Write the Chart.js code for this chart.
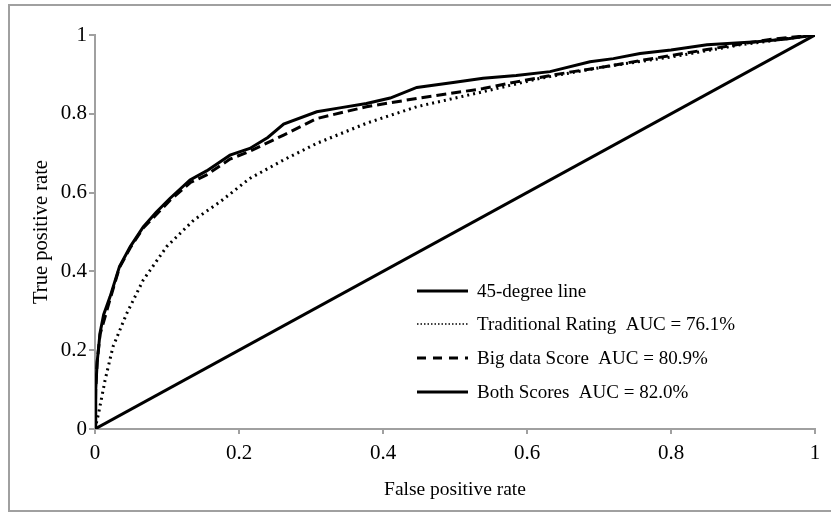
<!DOCTYPE html>
<html>
<head>
<meta charset="utf-8">
<script src="https://cdn.jsdelivr.net/npm/chart.js@4/dist/chart.umd.min.js"></script>
<style>
  html, body { margin: 0; padding: 0; background: #fff; }
  #wrap { width: 831px; height: 514px; }
</style>
</head>
<body>
<div id="wrap"><canvas id="roc" width="831" height="514"></canvas></div>
<script>
// ROC curves
const diagX = [0, 1];
const diagY = [0, 1];

const tradX = [0, 0.005, 0.014, 0.025, 0.044, 0.067, 0.0996, 0.137, 0.174, 0.215, 0.262, 0.308, 0.377, 0.447, 0.539, 0.618, 0.71, 0.803, 0.896, 1];
const tradY = [0, 0.04, 0.124, 0.209, 0.293, 0.378, 0.463, 0.53, 0.577, 0.636, 0.683, 0.725, 0.776, 0.818, 0.856, 0.89, 0.92, 0.945, 0.975, 1];

const bigX = [0, 0.001, 0.003, 0.007, 0.021, 0.034, 0.049, 0.067, 0.104, 0.132, 0.155, 0.1875, 0.215, 0.262, 0.308, 0.377, 0.447, 0.539, 0.585, 0.632, 0.664, 0.71, 0.757, 0.8, 0.85, 0.9, 0.942, 1];
const bigY = [0, 0.1, 0.17, 0.24, 0.33, 0.41, 0.46, 0.51, 0.58, 0.625, 0.645, 0.685, 0.705, 0.746, 0.788, 0.818, 0.839, 0.864, 0.881, 0.897, 0.907, 0.92, 0.935, 0.948, 0.963, 0.978, 0.99, 1];

const bothX = [0, 0.001, 0.003, 0.007, 0.012, 0.021, 0.034, 0.049, 0.067, 0.085, 0.104, 0.132, 0.155, 0.1875, 0.215, 0.24, 0.262, 0.308, 0.34, 0.377, 0.41, 0.447, 0.5, 0.539, 0.585, 0.632, 0.6875, 0.72, 0.757, 0.8, 0.85, 0.919, 0.96, 1];
const bothY = [0, 0.1, 0.17, 0.244, 0.29, 0.336, 0.412, 0.463, 0.513, 0.55, 0.585, 0.632, 0.655, 0.695, 0.712, 0.74, 0.774, 0.805, 0.815, 0.826, 0.84, 0.867, 0.88, 0.89, 0.897, 0.907, 0.932, 0.94, 0.953, 0.962, 0.975, 0.983, 0.99, 1];

const seriesLabels = ['45-degree line', 'Traditional Rating  AUC = 76.1%', 'Big data Score  AUC = 80.9%', 'Both Scores  AUC = 82.0%'];
const tickValues = [0, 0.2, 0.4, 0.6, 0.8, 1];

const toPts = (xs, ys) => xs.map((x, i) => ({ x, y: ys[i] }));
const FONT = '"Liberation Serif", "Times New Roman", serif';

// legend drawn inside the plot, lower right
const insideLegend = {
  id: 'insideLegend',
  afterDatasetsDraw(chart) {
    const ctx = chart.ctx;
    const x0 = 417, x1 = 468, tx = 477;
    const rows = [291, 324, 358, 392];
    ctx.save();
    ctx.font = '19px ' + FONT;
    ctx.fillStyle = '#000';
    ctx.textBaseline = 'middle';
    chart.data.datasets.forEach((ds, i) => {
      const y = rows[i];
      ctx.beginPath();
      ctx.strokeStyle = '#000';
      ctx.lineWidth = ds.legendWidth || ds.borderWidth;
      ctx.setLineDash(ds.legendDash || ds.borderDash || []);
      ctx.moveTo(x0, y);
      ctx.lineTo(x1, y);
      ctx.stroke();
      ctx.setLineDash([]);
      ctx.fillText(ds.label, tx, y + 1);
    });
    ctx.restore();
  }
};

// gray frame around the whole figure
const frame = {
  id: 'frame',
  beforeDraw(chart) {
    const ctx = chart.ctx;
    ctx.save();
    ctx.fillStyle = '#fff';
    ctx.fillRect(0, 0, chart.width, chart.height);
    ctx.strokeStyle = '#a0a0a0';
    ctx.lineWidth = 2;
    ctx.strokeRect(9, 5, 840, 506);
    ctx.restore();
  }
};

new Chart(document.getElementById('roc'), {
  type: 'scatter',
  data: {
    datasets: [
      { label: seriesLabels[0], data: toPts(diagX, diagY), borderColor: '#000', borderWidth: 3, showLine: true, pointRadius: 0 },
      { label: seriesLabels[1], data: toPts(tradX, tradY), borderColor: '#000', borderWidth: 3, borderDash: [2, 4], legendDash: [1.5, 2], legendWidth: 1.5, showLine: true, pointRadius: 0 },
      { label: seriesLabels[2], data: toPts(bigX, bigY), borderColor: '#000', borderWidth: 3, borderDash: [10, 5], legendDash: [9, 7], showLine: true, pointRadius: 0 },
      { label: seriesLabels[3], data: toPts(bothX, bothY), borderColor: '#000', borderWidth: 3, showLine: true, pointRadius: 0 }
    ]
  },
  options: {
    responsive: false,
    animation: false,
    layout: { padding: { left: 29, right: 16, top: 35, bottom: 12 } },
    plugins: { legend: { display: false }, tooltip: { enabled: false } },
    scales: {
      x: {
        type: 'linear', min: 0, max: 1,
        afterBuildTicks: s => { s.ticks = tickValues.map(v => ({ value: v })); },
        afterFit: s => { s.height = 73; },
        ticks: { color: '#000', font: { family: FONT, size: 21 }, padding: 7, maxRotation: 0, callback: v => String(+v.toFixed(1)) },
        grid: { drawOnChartArea: false, drawTicks: true, tickLength: 5, color: '#a0a0a0', lineWidth: 2 },
        border: { display: true, color: '#a0a0a0', width: 2 },
        title: { display: true, text: 'False positive rate', color: '#000', font: { family: FONT, size: 19.5 }, padding: 0 }
      },
      y: {
        type: 'linear', min: 0, max: 1,
        afterBuildTicks: s => { s.ticks = tickValues.map(v => ({ value: v })); },
        afterFit: s => { s.width = 66; },
        ticks: { color: '#000', font: { family: FONT, size: 21 }, padding: 2, callback: v => String(+v.toFixed(1)) },
        grid: { drawOnChartArea: false, drawTicks: true, tickLength: 6, color: '#a0a0a0', lineWidth: 2 },
        border: { display: true, color: '#a0a0a0', width: 2 },
        title: { display: true, text: 'True positive rate', color: '#000', font: { family: FONT, size: 20.5 }, padding: 0 }
      }
    }
  },
  plugins: [frame, insideLegend]
});
</script>
</body>
</html>
